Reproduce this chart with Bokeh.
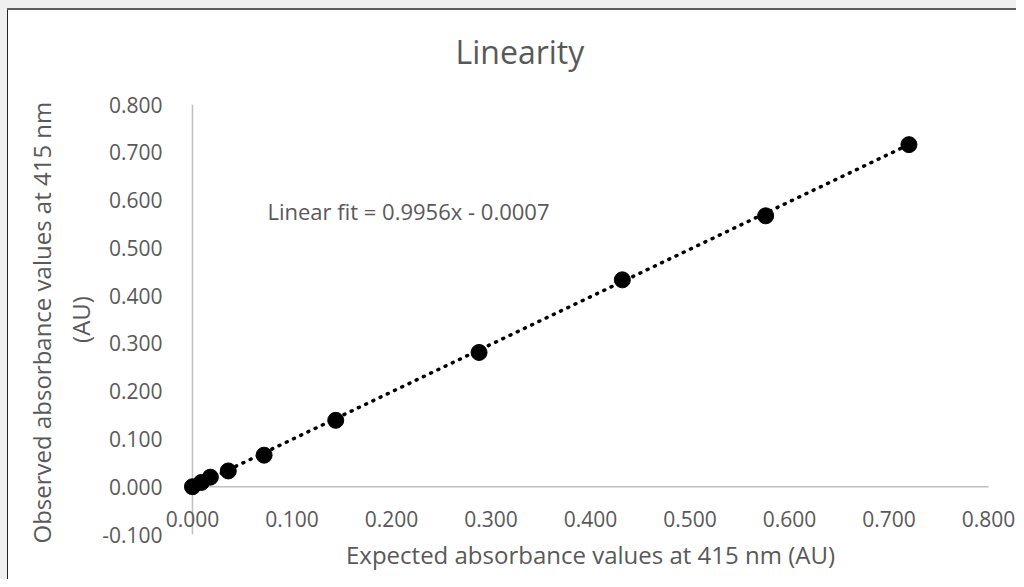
from bokeh.plotting import figure
from bokeh.models import FixedTicker, PrintfTickFormatter, Label, Range1d, ColumnDataSource
from bokeh.embed import file_html
from bokeh.resources import INLINE

# ---- data ----
expected = [0.000, 0.009, 0.018, 0.036, 0.072, 0.144, 0.288, 0.432, 0.576, 0.720]
observed = [0.000, 0.009, 0.020, 0.033, 0.066, 0.139, 0.281, 0.433, 0.567, 0.716]
fit_slope = 0.9956
fit_intercept = -0.0007
x_ticks = [0.0, 0.1, 0.2, 0.3, 0.4, 0.5, 0.6, 0.7, 0.8]
y_ticks = [-0.1, 0.0, 0.1, 0.2, 0.3, 0.4, 0.5, 0.6, 0.7, 0.8]
title_text = "Linearity"
x_label = "Expected absorbance values at 415 nm (AU)"
y_label = "Observed absorbance  values at 415 nm\n(AU)"
fit_label = "Linear fit = 0.9956x - 0.0007"

FONT = "Open Sans"
TEXT = "#595959"
AXIS = "#bfbfbf"
PAD = 0.01  # small padding so the marker at the origin is not clipped

# window-like frame around the chart (light grey strip, dark border)
frame_css = {
    "background": ("linear-gradient(#5e5e5e,#5e5e5e) 7px 8px / 100% 2px no-repeat, "
                   "linear-gradient(#262626,#262626) 7px 8px / 1px 100% no-repeat, "
                   "linear-gradient(#f0f0f0,#f0f0f0) 0 0 / 100% 8px no-repeat, "
                   "linear-gradient(#f0f0f0,#f0f0f0) 0 0 / 7px 100% no-repeat, #ffffff"),
}

p = figure(width=1016, height=579,
           x_range=Range1d(x_ticks[0] - PAD, x_ticks[-1] + PAD),
           y_range=Range1d(y_ticks[0], y_ticks[-1]),
           output_backend="svg", toolbar_location=None,
           min_border_left=182, min_border_right=18,
           min_border_top=104, min_border_bottom=45,
           styles=frame_css)
p.outline_line_color = None
p.border_fill_color = None
p.background_fill_color = None
p.grid.visible = False

p.title.text = title_text
p.title.align = "left"
p.title.offset = 273
p.title.vertical_align = "top"
p.title.standoff = 59
p.title.text_font = FONT
p.title.text_font_size = "32px"
p.title.text_font_style = "normal"
p.title.text_color = TEXT

for ax in (p.xaxis[0], p.yaxis[0]):
    ax.major_tick_line_color = None
    ax.minor_tick_line_color = None
    ax.axis_line_color = None
    ax.major_label_text_font = FONT
    ax.major_label_text_font_size = "21px"
    ax.major_label_text_color = TEXT
    ax.axis_label_text_font = FONT
    ax.axis_label_text_font_size = "24px"
    ax.axis_label_text_color = TEXT
    ax.axis_label_text_font_style = "normal"
    ax.formatter = PrintfTickFormatter(format="%.3f")

xa = p.xaxis[0]
xa.ticker = FixedTicker(ticks=x_ticks)
xa.major_label_standoff = -30
xa.axis_label = x_label
xa.axis_label_standoff = 8

ya = p.yaxis[0]
ya.ticker = FixedTicker(ticks=y_ticks)
ya.major_label_standoff = 14
ya.axis_label = y_label
ya.axis_label_standoff = 2
ya.axis_label_text_line_height = 1.2

# axis lines crossing at the origin (Excel style)
p.line([x_ticks[0], x_ticks[-1]], [0, 0], line_color=AXIS, line_width=1.5)
p.line([0, 0], [y_ticks[0], y_ticks[-1]], line_color=AXIS, line_width=1.5)

# trendline from the fit
fit_x = [expected[0], expected[-1]]
fit_y = [fit_slope * v + fit_intercept for v in fit_x]
p.line(fit_x, fit_y, line_color="black", line_width=3.5, line_dash="1 7", line_cap="round")

src = ColumnDataSource(dict(x=expected, y=observed))
p.scatter("x", "y", source=src, size=16, fill_color="black", line_color="black")

p.add_layout(Label(x=0.0754, y=0.578, text=fit_label, text_align="left", text_baseline="middle",
                   text_font=FONT, text_font_size="22px", text_color=TEXT))

open("out.html", "w").write(file_html(p, INLINE))
